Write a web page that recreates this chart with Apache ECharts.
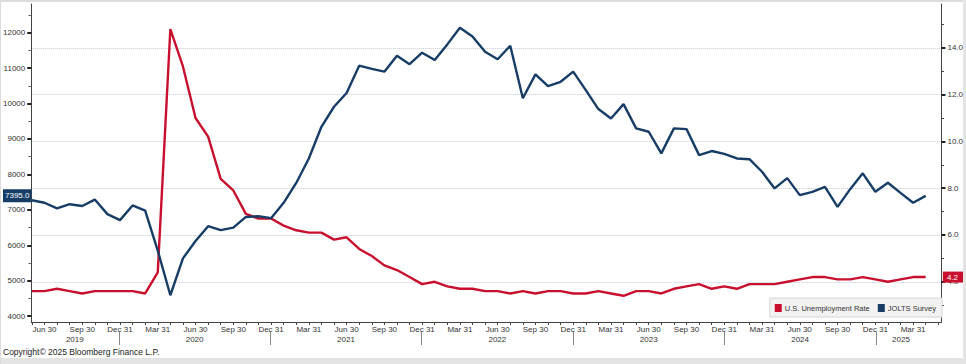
<!DOCTYPE html>
<html><head><meta charset="utf-8">
<script src="https://cdn.jsdelivr.net/npm/echarts@6/dist/echarts.min.js"></script>
<style>html,body{margin:0;padding:0;background:#fff}#c{width:966px;height:364px}</style>
</head><body><div id="c"></div>
<script>
// ---- data (monthly, month-end, starting May 2019) ----
const startYear = 2019;
const startMonth0 = 4; // May (0-based)
const joltsValues = [
  7270, 7200, 7040, 7160, 7110, 7290, 6880, 6710,
  7125, 6980, 5850, 4590, 5630, 6120, 6540, 6430, 6500, 6800, 6820, 6765,
  7200, 7760, 8450, 9345, 9910, 10300, 11070, 10980, 10900, 11350, 11110, 11435,
  11230, 11670, 12140, 11890, 11460, 11250, 11630, 10150, 10825, 10495, 10615, 10900,
  10380, 9845, 9580, 9985, 9300, 9205, 8595, 9300, 9280, 8545, 8660, 8580,
  8450, 8430, 8075, 7605, 7895, 7415, 7510, 7650, 7085, 7585, 8030, 7510,
  7765, 7480, 7200, 7395
];
const unempValues = [
  3.6, 3.6, 3.7, 3.6, 3.5, 3.6, 3.6, 3.6,
  3.6, 3.5, 4.4, 14.8, 13.2, 11.0, 10.2, 8.4, 7.9, 6.9, 6.7, 6.7,
  6.4, 6.2, 6.1, 6.1, 5.8, 5.9, 5.4, 5.1, 4.7, 4.5, 4.2, 3.9,
  4.0, 3.8, 3.7, 3.7, 3.6, 3.6, 3.5, 3.6, 3.5, 3.6, 3.6, 3.5,
  3.5, 3.6, 3.5, 3.4, 3.6, 3.6, 3.5, 3.7, 3.8, 3.9, 3.7, 3.8,
  3.7, 3.9, 3.9, 3.9, 4.0, 4.1, 4.2, 4.2, 4.1, 4.1, 4.2, 4.1,
  4.0, 4.1, 4.2, 4.2
];
const leftTickValues = [4000, 5000, 6000, 7000, 8000, 9000, 10000, 11000, 12000];
const leftMinorValues = [4500, 5500, 6500, 7500, 8500, 9500, 10500, 11500, 12500];
const rightTickValues = [4, 6, 8, 10, 12, 14];
const rightMinorValues = [3, 5, 7, 9, 11, 13, 15];
const monthNames = ['Jan','Feb','Mar','Apr','May','Jun','Jul','Aug','Sep','Oct','Nov','Dec'];
const monthEndDay = [31,28,31,30,31,30,31,31,30,31,30,31];
const seriesNames = ['U.S. Unemployment Rate', 'JOLTS Survey'];

// ---- derived ----
const n = joltsValues.length;
const idx = Array.from({length: n}, (_, i) => i);
const absMonth = i => startMonth0 + i;
const joltsData = idx.map(i => [i, joltsValues[i]]);
const unempData = idx.map(i => [i, unempValues[i]]);
const monthTicks = Array.from({length: n + 1}, (_, i) => i);
const quarterTicks = idx.filter(i => absMonth(i) % 3 === 2);
const yearSeps = idx.filter(i => absMonth(i) % 12 === 11);
const yearMid = [];
{
  const bounds = [0].concat(yearSeps, [n - 1]);
  for (let k = 0; k < bounds.length - 1; k++) yearMid.push((bounds[k] + bounds[k + 1]) / 2);
}
const lastJolts = joltsValues[n - 1];
const lastUnemp = unempValues[n - 1];

const RED = '#c8102e';
const NAVY = '#173d66';
const FONT = '"Liberation Sans", Arial, sans-serif';
const AX = '#444';
const XMIN = -0.05, XMAX = 72.25;
const LMIN = 3835, LMAX = 12810;
const RMIN = 2.28, RMAX = 15.87;
const gridBox = {left: 30, right: 24, top: 4, bottom: 42, containLabel: false};

const chart = echarts.init(document.getElementById('c'), null, {renderer: 'svg'});
const option = {
  animation: false,
  backgroundColor: '#fff',
  grid: [Object.assign({}, gridBox), Object.assign({}, gridBox), Object.assign({}, gridBox)],
  xAxis: [
    {
      gridIndex: 0, type: 'value', min: XMIN, max: XMAX, position: 'bottom',
      axisLine: {show: true, onZero: false, lineStyle: {color: AX, width: 1}},
      axisTick: {show: true, customValues: monthTicks, length: 3, lineStyle: {color: AX}},
      axisLabel: {
        customValues: quarterTicks, margin: 3, fontSize: 8, color: '#333', fontFamily: FONT,
        formatter: v => { const m = absMonth(Math.round(v)) % 12; return monthNames[m] + ' ' + monthEndDay[m]; }
      },
      splitLine: {show: false}
    },
    {
      gridIndex: 1, type: 'value', min: XMIN, max: XMAX, position: 'bottom', offset: 10,
      axisLine: {show: false},
      axisTick: {show: true, customValues: yearSeps, length: 13, lineStyle: {color: '#888'}},
      axisLabel: {
        customValues: yearMid, margin: 3, fontSize: 8, color: '#333', fontFamily: FONT,
        formatter: v => String(startYear + Math.floor((startMonth0 + v) / 12))
      },
      splitLine: {show: false}
    },
    {
      gridIndex: 2, type: 'value', min: XMIN, max: XMAX, show: false
    }
  ],
  yAxis: [
    {
      gridIndex: 0, type: 'value', position: 'left', min: LMIN, max: LMAX,
      axisLine: {show: true, onZero: false, lineStyle: {color: AX}},
      axisTick: {show: true, customValues: leftTickValues, length: 4, lineStyle: {color: '#222', width: 2}},
      axisLabel: {customValues: leftTickValues, margin: 6, fontSize: 8, color: '#333', fontFamily: FONT,
        formatter: v => String(v)},
      splitLine: {show: false}
    },
    {
      gridIndex: 0, type: 'value', position: 'right', min: RMIN, max: RMAX,
      axisLine: {show: true, onZero: false, lineStyle: {color: AX}},
      axisTick: {show: true, customValues: rightTickValues, length: 4, lineStyle: {color: '#222', width: 2}},
      axisLabel: {customValues: rightTickValues, margin: 6, fontSize: 8, color: '#333', fontFamily: FONT,
        formatter: v => v.toFixed(1)},
      splitLine: {show: true, lineStyle: {color: '#c4c7d6', type: 'dotted', width: 1}}
    },
    {
      gridIndex: 1, type: 'value', position: 'left', min: LMIN, max: LMAX,
      axisLine: {show: false},
      axisTick: {show: true, customValues: leftMinorValues, length: 2, lineStyle: {color: AX}},
      axisLabel: {show: false}, splitLine: {show: false}
    },
    {
      gridIndex: 1, type: 'value', position: 'right', min: RMIN, max: RMAX,
      axisLine: {show: false},
      axisTick: {show: true, customValues: rightMinorValues, length: 2, lineStyle: {color: AX}},
      axisLabel: {show: false}, splitLine: {show: false}
    },
    {
      gridIndex: 2, type: 'value', position: 'left', min: LMIN, max: LMAX, z: 10,
      axisLine: {show: false}, axisTick: {show: false}, splitLine: {show: false},
      axisLabel: {customValues: [lastJolts], margin: 1, fontSize: 8, color: '#fff', fontFamily: FONT,
        backgroundColor: NAVY, padding: [3, 2, 2, 2], formatter: v => v.toFixed(1)}
    },
    {
      gridIndex: 2, type: 'value', position: 'right', min: RMIN, max: RMAX, z: 10,
      axisLine: {show: false}, axisTick: {show: false}, splitLine: {show: false},
      axisLabel: {customValues: [lastUnemp], margin: 1, fontSize: 8, color: '#fff', fontFamily: FONT,
        backgroundColor: RED, padding: [2, 5, 1, 4], formatter: v => v.toFixed(1)}
    }
  ],
  legend: {
    data: seriesNames, right: 24, top: 298, orient: 'horizontal',
    backgroundColor: '#f2f2f2', borderColor: '#d6d6d6', borderWidth: 1,
    padding: [6, 6, 5, 5], itemGap: 8, itemWidth: 7, itemHeight: 8, icon: 'rect',
    textStyle: {fontSize: 7.5, color: '#333', fontFamily: FONT, padding: [0, 0, 0, -2]}
  },
  series: [
    {
      name: seriesNames[0], type: 'line', xAxisIndex: 0, yAxisIndex: 1, data: unempData,
      showSymbol: false, symbol: 'none', color: RED, lineStyle: {color: RED, width: 2.4}, z: 3
    },
    {
      name: seriesNames[1], type: 'line', xAxisIndex: 0, yAxisIndex: 0, data: joltsData,
      showSymbol: false, symbol: 'none', color: NAVY, lineStyle: {color: NAVY, width: 2.4}, z: 4
    }
  ],
  graphic: [
    {type: 'rect', left: 0, top: 0, shape: {x: 0, y: 0, width: 966, height: 2}, style: {fill: '#dcdcdc'}, silent: true},
    {type: 'rect', left: 0, top: 358, shape: {x: 0, y: 0, width: 966, height: 6}, style: {fill: '#e4e4e4'}, silent: true},
    {type: 'rect', left: 0, top: 0, shape: {x: 0, y: 0, width: 1, height: 364}, style: {fill: '#dcdcdc'}, silent: true},
    {type: 'rect', right: 0, top: 0, shape: {x: 0, y: 0, width: 3, height: 364}, style: {fill: '#e4e4e4'}, silent: true},
    {type: 'text', left: 3, top: 347, style: {text: 'Copyright\u00a9 2025 Bloomberg Finance L.P.', fontSize: 8.5, fill: '#222', fontFamily: FONT}}
  ]
};
chart.setOption(option);
</script>
</body></html>
